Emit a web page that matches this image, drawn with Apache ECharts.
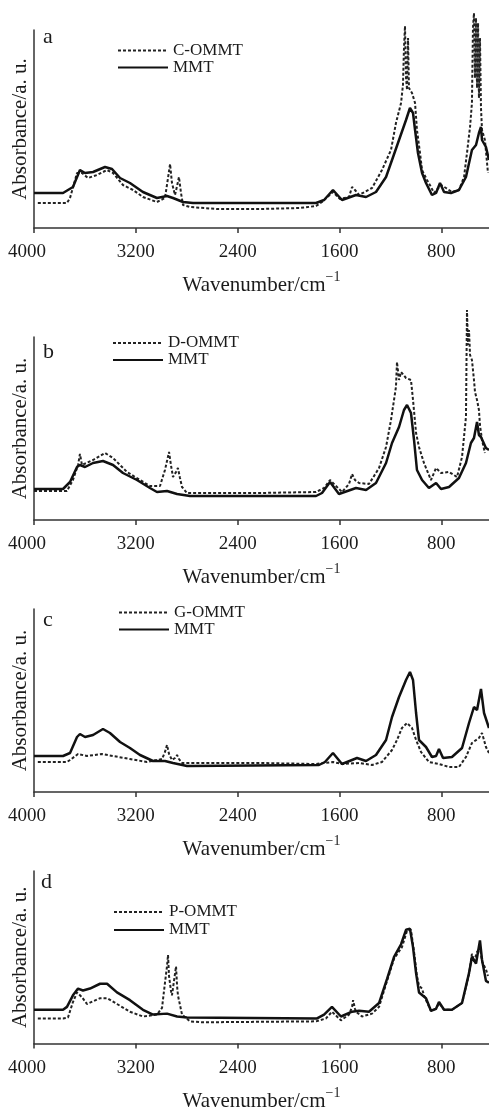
<!DOCTYPE html>
<html><head><meta charset="utf-8">
<style>html,body{margin:0;padding:0;background:#fff}#chart{width:489px;height:1117px}</style>
<script src="https://cdn.jsdelivr.net/npm/echarts@6/dist/echarts.min.js"></script>
</head><body><div id="chart"></div>
<script>
// ---------- data ----------
const xTickValues = [4000, 3200, 2400, 1600, 800];
const panelLetters = ['a', 'b', 'c', 'd'];
const sampleNames = ['C-OMMT', 'D-OMMT', 'G-OMMT', 'P-OMMT'];
const refName = 'MMT';
const xTitle = 'Wavenumber/cm';
const xTitleSup = '\u22121';
const yTitle = 'Absorbance/a. u.';

// [wavenumber, absorbance (a.u.)]
const aMMT = [[4000,35],[3772,35],[3694,41],[3639,58],[3599,55],[3536,56],[3442,61],[3387,59],[3324,50],[3246,45],[3144,36],[3034,30],[2955,32],[2908,30],[2829,26],[2751,25],[1784,25],[1721,28],[1651,38],[1580,28],[1470,33],[1391,31],[1313,36],[1234,51],[1187,68],[1132,88],[1077,108],[1046,120],[1022,115],[1006,98],[983,75],[951,55],[920,45],[873,33],[841,35],[810,45],[778,36],[724,35],[661,38],[606,51],[559,78],[527,83],[504,95],[488,101],[480,88],[449,81],[425,68]];
const aOMMT = [[3970,25],[3741,25],[3717,30],[3662,55],[3623,55],[3576,50],[3505,53],[3426,58],[3379,55],[3301,43],[3222,38],[3144,31],[3034,26],[2971,30],[2947,50],[2931,64],[2916,45],[2892,33],[2876,42],[2861,51],[2845,35],[2829,23],[2774,21],[2562,19],[2224,19],[1910,20],[1784,22],[1737,26],[1651,36],[1596,29],[1525,31],[1501,41],[1478,38],[1446,33],[1344,40],[1266,58],[1195,78],[1156,105],[1116,125],[1101,143],[1093,180],[1085,202],[1077,150],[1069,138],[1061,190],[1054,140],[1030,135],[1006,125],[991,98],[967,75],[951,58],[912,48],[881,41],[857,35],[802,43],[763,40],[716,36],[661,38],[621,51],[598,75],[574,101],[559,125],[551,200],[543,215],[535,150],[527,210],[519,140],[511,205],[504,130],[496,190],[488,120],[480,98],[457,88],[433,55]];

const bMMT = [[4000,31],[3772,31],[3717,38],[3662,53],[3639,55],[3599,53],[3536,57],[3458,59],[3379,55],[3301,47],[3191,40],[3089,32],[3034,28],[2955,29],[2876,26],[2774,24],[1784,24],[1737,27],[1674,38],[1604,26],[1470,32],[1391,30],[1313,37],[1234,57],[1187,77],[1132,93],[1093,110],[1069,115],[1038,107],[1014,80],[991,50],[951,40],[897,32],[841,37],[802,31],[739,33],[661,42],[606,57],[567,77],[543,82],[519,98],[504,85],[488,83],[449,72],[425,70]];
const bOMMT = [[4000,29],[3741,29],[3694,40],[3654,55],[3639,66],[3623,55],[3536,60],[3442,67],[3379,62],[3269,48],[3167,40],[3089,34],[3010,34],[2971,50],[2939,68],[2924,55],[2908,43],[2884,48],[2869,52],[2853,42],[2837,33],[2798,27],[2719,27],[2224,27],[1784,28],[1721,32],[1674,40],[1580,28],[1525,36],[1501,46],[1478,40],[1446,37],[1368,36],[1289,52],[1234,73],[1195,100],[1156,133],[1148,158],[1132,140],[1116,148],[1077,142],[1038,140],[1022,120],[998,87],[975,73],[936,57],[881,40],[841,52],[802,47],[739,48],[676,43],[637,63],[606,103],[598,210],[590,175],[582,190],[574,165],[559,160],[551,150],[543,140],[535,128],[519,120],[504,110],[496,95],[480,80],[457,67]];

const cMMT = [[4000,36],[3772,36],[3717,39],[3662,55],[3639,58],[3599,55],[3536,57],[3458,63],[3403,59],[3324,50],[3246,44],[3167,37],[3065,31],[2971,31],[2908,29],[2798,26],[1761,27],[1714,30],[1651,39],[1580,28],[1462,34],[1391,31],[1313,37],[1234,52],[1187,75],[1132,95],[1077,112],[1046,120],[1022,112],[998,79],[975,52],[920,45],[873,35],[841,36],[818,43],[786,34],[716,35],[637,44],[582,69],[543,85],[519,82],[488,103],[464,79],[425,64]];
const cOMMT = [[3970,30],[3741,30],[3717,32],[3654,38],[3584,36],[3466,38],[3379,36],[3246,33],[3112,30],[2994,33],[2971,40],[2955,47],[2939,38],[2916,32],[2892,34],[2876,37],[2861,33],[2837,29],[2224,29],[1784,28],[1651,30],[1580,28],[1446,29],[1344,27],[1266,30],[1187,42],[1148,52],[1109,64],[1069,69],[1030,64],[998,52],[959,40],[897,30],[818,28],[739,25],[661,25],[606,35],[559,49],[504,54],[480,59],[449,45],[425,39]];

const dMMT = [[4000,35],[3772,35],[3741,38],[3694,50],[3654,57],[3615,55],[3560,57],[3481,62],[3426,62],[3348,53],[3246,45],[3144,35],[3065,30],[2955,31],[2876,28],[2798,27],[1776,26],[1721,30],[1659,38],[1588,28],[1501,33],[1446,34],[1368,33],[1289,42],[1226,67],[1171,90],[1116,103],[1077,118],[1046,119],[1022,100],[998,73],[975,53],[920,47],[881,34],[841,36],[818,43],[778,35],[716,35],[637,42],[582,73],[559,90],[527,83],[496,107],[480,87],[449,65],[425,63]];
const dOMMT = [[3970,26],[3772,26],[3733,27],[3694,43],[3662,53],[3623,48],[3584,41],[3481,47],[3426,47],[3348,41],[3246,33],[3144,28],[3034,30],[2994,37],[2971,63],[2955,80],[2947,92],[2939,70],[2924,55],[2916,50],[2900,65],[2884,80],[2876,60],[2869,50],[2837,30],[2774,23],[2672,22],[1784,23],[1706,26],[1659,33],[1588,24],[1525,30],[1501,38],[1493,45],[1478,36],[1470,33],[1423,28],[1344,31],[1289,38],[1226,65],[1171,88],[1109,100],[1069,117],[1038,118],[1014,95],[991,70],[975,60],[951,57],[936,50],[920,45],[881,34],[841,36],[818,42],[778,35],[716,35],[637,42],[582,72],[559,93],[543,85],[519,95],[496,100],[480,85],[449,77],[433,70]];

const mmtSets = [aMMT, bMMT, cMMT, dMMT];
const sampleSets = [aOMMT, bOMMT, cOMMT, dOMMT];
const yMaxes = [198, 183, 183, 179];

// ---------- layout ----------
const FONT = '"Liberation Serif", "Times New Roman", serif';
const INK = '#1b1b1b';
const grids = [{top:30,height:198},{top:337,height:183},{top:609,height:183},{top:871,height:179}];
const legendPos = [{left:117,top:42,lh:16},{left:112,top:334.5,lh:15},{left:118,top:604,lh:16},{left:113,top:903,lh:18}];
const letterPos = [{left:43,top:26},{left:43,top:341},{left:43,top:609},{left:41,top:871}];

const option = {
  animation: false,
  backgroundColor: '#fff',
  title: panelLetters.map((t,i)=>({text:t,left:letterPos[i].left,top:letterPos[i].top,padding:0,
    textStyle:{fontFamily:FONT,fontSize:22,fontWeight:'normal',color:INK}})),
  legend: sampleNames.map((s,i)=>({
    data:[s, refName], orient:'vertical', left:legendPos[i].left, top:legendPos[i].top,
    itemWidth:50, itemHeight:10, itemGap:0, padding:0, selectedMode:false,
    itemStyle:{color:'rgba(0,0,0,0)', borderColor:'rgba(0,0,0,0)', borderWidth:0, opacity:0},
    textStyle:{fontFamily:FONT,fontSize:17,color:INK,lineHeight:legendPos[i].lh}
  })),
  grid: grids.map(g=>({left:34,right:0,top:g.top,height:g.height})),
  xAxis: grids.map((g,i)=>({
    type:'value', gridIndex:i, inverse:true, min:425, max:4000,
    axisLine:{show:true,onZero:false,lineStyle:{color:'#333',width:1.5}},
    axisTick:{show:true,customValues:xTickValues,length:5,inside:false,lineStyle:{color:'#333',width:1.5}},
    axisLabel:{customValues:xTickValues,margin:15,fontFamily:FONT,fontSize:19,color:INK,
      formatter:v=> v===4000 ? '{f|4000}' : String(v),
      rich:{f:{fontFamily:FONT,fontSize:19,color:INK,padding:[0,14,0,0]}}},
    splitLine:{show:false},
    name:'{m|'+xTitle+'}{sup|'+xTitleSup+'}', nameLocation:'middle', nameGap:47,
    nameTextStyle:{rich:{
      m:{fontFamily:FONT,fontSize:21,color:INK,lineHeight:21},
      sup:{fontFamily:FONT,fontSize:14,color:INK,lineHeight:14,padding:[0,0,16,0]}}}
  })),
  yAxis: grids.map((g,i)=>({
    type:'value', gridIndex:i, min:0, max:yMaxes[i],
    axisLine:{show:true,lineStyle:{color:'#333',width:1.5}},
    axisTick:{show:false}, axisLabel:{show:false}, splitLine:{show:false},
    name:yTitle, nameLocation:'middle', nameGap:3,
    nameTextStyle:{fontFamily:FONT,fontSize:21,color:INK}
  })),
  series: []
};
for (let i=0;i<4;i++){
  option.series.push({
    type:'line', name:sampleNames[i], xAxisIndex:i, yAxisIndex:i, data:sampleSets[i],
    symbol:'none', clip:false, z:2,
    lineStyle:{color:'#222',width:2,type:[3,2]}, itemStyle:{color:'#222'}
  });
  option.series.push({
    type:'line', name:refName, xAxisIndex:i, yAxisIndex:i, data:mmtSets[i],
    symbol:'none', clip:false, z:3,
    lineStyle:{color:'#111',width:2.5,type:'solid'}, itemStyle:{color:'#111'}
  });
}
const chart = echarts.init(document.getElementById('chart'), null, {renderer:'canvas'});
chart.setOption(option);
</script></body></html>
